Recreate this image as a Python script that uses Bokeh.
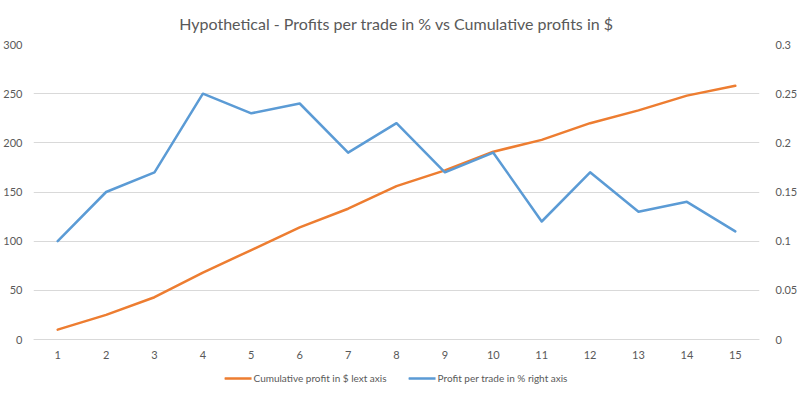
from bokeh.plotting import figure
from bokeh.models import (Range1d, LinearAxis, FixedTicker, Legend, LegendItem,
                          CustomJSTickFormatter)
from bokeh.embed import file_html
from bokeh.resources import INLINE

# ---- data ----
trades = [1, 2, 3, 4, 5, 6, 7, 8, 9, 10, 11, 12, 13, 14, 15]
cumulative_profit = [10, 25, 43, 68, 91, 114, 133, 156, 172, 191, 203, 220, 233, 248, 258]
profit_per_trade = [0.10, 0.15, 0.17, 0.25, 0.23, 0.24, 0.19, 0.22, 0.17, 0.19, 0.12, 0.17, 0.13, 0.14, 0.11]
left_ticks = [0, 50, 100, 150, 200, 250, 300]
right_ticks = [0, 0.05, 0.1, 0.15, 0.2, 0.25, 0.3]
title_text = "Hypothetical - Profits per trade in % vs Cumulative profits in $"
legend_labels = ["Cumulative profit in $ lext axis", "Profit per trade in % right axis"]

ORANGE = "#ED7D31"
BLUE = "#5B9BD5"
GRID = "#D9D9D9"
TEXT = "#595959"
FONT = "Lato"

# layout geometry (pixels): plotting band of 295 px for 0..300, plus 49 px below zero
BAND = 295
BELOW = 49
left_max, right_max = 300, 0.3
left_min = -left_max * BELOW / BAND
right_min = -right_max * BELOW / BAND

p = figure(frame_width=726, frame_height=BAND + BELOW,
           x_range=Range1d(0.5, 15.5), y_range=Range1d(left_min, left_max),
           output_backend="svg", toolbar_location=None,
           min_border=0, title=title_text)
p.extra_y_ranges = {"pct": Range1d(right_min, right_max)}

p.title.align = "center"
p.title.text_font = FONT
p.title.text_font_size = "16px"
p.title.text_font_style = "normal"
p.title.text_color = TEXT
p.title.standoff = 23

p.outline_line_color = None
p.xgrid.grid_line_color = None
p.ygrid.grid_line_color = GRID
p.ygrid.grid_line_width = 1
p.ygrid.ticker = FixedTicker(ticks=left_ticks)

# x axis drawn at zero
xa = p.xaxis[0]
xa.fixed_location = 0
xa.ticker = FixedTicker(ticks=trades)
xa.axis_line_color = GRID
xa.major_tick_line_color = None
xa.minor_tick_line_color = None
xa.major_label_standoff = 5
xa.major_label_text_font = FONT
xa.major_label_text_font_size = "11px"
xa.major_label_text_color = TEXT

# left axis
ya = p.yaxis[0]
ya.ticker = FixedTicker(ticks=left_ticks)
ya.axis_line_color = None
ya.major_tick_line_color = None
ya.minor_tick_line_color = None
ya.major_label_standoff = 5
ya.major_label_text_font = FONT
ya.major_label_text_font_size = "11px"
ya.major_label_text_color = TEXT

# right axis
ra = LinearAxis(y_range_name="pct", ticker=FixedTicker(ticks=right_ticks),
                formatter=CustomJSTickFormatter(code="return parseFloat(tick.toFixed(4)).toString();"))
ra.axis_line_color = None
ra.major_tick_line_color = None
ra.minor_tick_line_color = None
ra.major_label_standoff = 10
ra.major_label_text_font = FONT
ra.major_label_text_font_size = "11px"
ra.major_label_text_color = TEXT
p.add_layout(ra, "right")

r_cum = p.line(trades, cumulative_profit, line_color=ORANGE, line_width=2.5,
               line_join="round", line_cap="round")
r_pct = p.line(trades, profit_per_trade, y_range_name="pct", line_color=BLUE,
               line_width=2.5, line_join="round", line_cap="round")

legend = Legend(items=[LegendItem(label=legend_labels[0], renderers=[r_cum]),
                      LegendItem(label=legend_labels[1], renderers=[r_pct])],
                orientation="horizontal", location="bottom_center",
                border_line_color=None, background_fill_alpha=0,
                label_text_font=FONT, label_text_font_size="10px",
                label_text_color=TEXT, glyph_width=27, glyph_height=12,
                label_standoff=2, spacing=22, padding=2, margin=3,
                label_height=14)
p.add_layout(legend, "center")

open("out.html", "w").write(file_html(p, INLINE))
